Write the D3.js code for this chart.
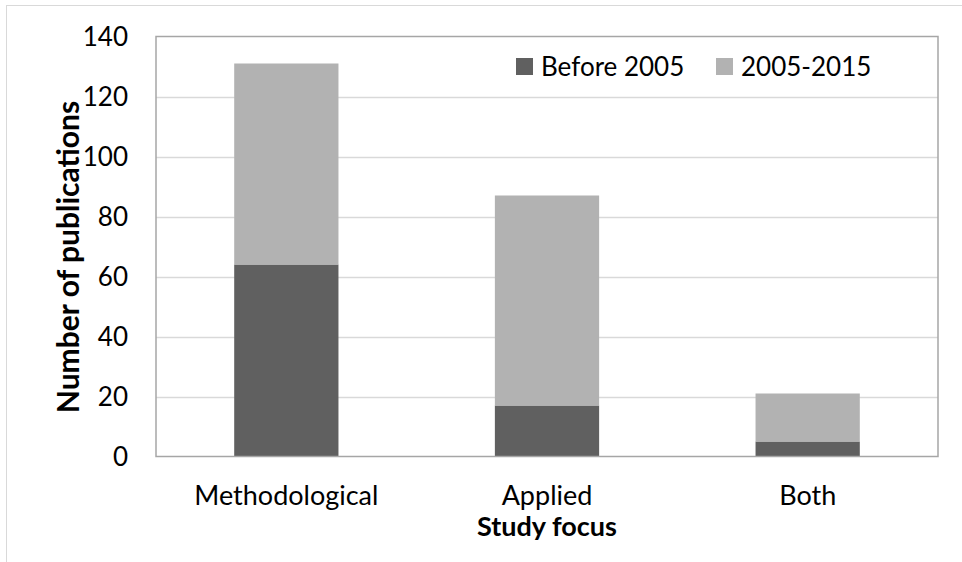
<!DOCTYPE html>
<html><head><meta charset="utf-8">
<script src="https://cdn.jsdelivr.net/npm/d3@7"></script>
<style>body{margin:0;background:#fff}svg{display:block}</style>
</head><body><svg id="c" width="962" height="562"></svg>
<script>
const categories = ["Methodological", "Applied", "Both"];
const seriesNames = ["Before 2005", "2005-2015"];
const before2005 = [64, 17, 5];
const y2005to2015 = [67, 70, 16];
const yTicks = [0, 20, 40, 60, 80, 100, 120, 140];
const colors = ["#606060", "#b2b2b2"];

const svg = d3.select("#c");
const F = "Lato, 'Open Sans', sans-serif";
const m = {l:156, t:36.5, r:938, b:456.5};

svg.append("rect").attr("x",6.5).attr("y",5.5).attr("width",1000).attr("height",1000)
  .attr("fill","none").attr("stroke","#d9d9d9").attr("stroke-width",1);

const x = d3.scaleBand().domain(categories).range([m.l, m.r]).paddingInner(0.6).paddingOuter(0.3);
const y = d3.scaleLinear().domain([0,140]).range([m.b, m.t]);

// grid
svg.append("g").selectAll("line").data(yTicks.filter(d=>d>0&&d<140)).join("line")
  .attr("x1",m.l).attr("x2",m.r).attr("y1",d=>Math.round(y(d))+0.5).attr("y2",d=>Math.round(y(d))+0.5)
  .attr("stroke","#d9d9d9").attr("stroke-width",1.5);

const data = categories.map((c,i)=>({cat:c, "Before 2005":before2005[i], "2005-2015":y2005to2015[i]}));
const stack = d3.stack().keys(seriesNames)(data);
svg.append("g").selectAll("g").data(stack).join("g").attr("fill",(d,i)=>colors[i])
  .selectAll("rect").data(d=>d).join("rect")
  .attr("x",d=>x(d.data.cat)).attr("width",x.bandwidth())
  .attr("y",d=>y(d[1])).attr("height",d=>y(d[0])-y(d[1]));

// plot border
svg.append("rect").attr("x",m.l).attr("y",m.t).attr("width",m.r-m.l).attr("height",m.b-m.t)
  .attr("fill","none").attr("stroke","#a6a6a6").attr("stroke-width",1.5);

// y axis labels
const ya = svg.append("g").attr("transform",`translate(${m.l},0)`)
  .call(d3.axisLeft(y).tickValues(yTicks).tickSize(0).tickPadding(28));
ya.select(".domain").remove();
ya.selectAll("text").attr("font-family",F).attr("font-size",26).attr("fill","#000").attr("dy","0.35em");

// x axis labels
const xa = svg.append("g").attr("transform",`translate(0,${m.b})`)
  .call(d3.axisBottom(x).tickSize(0).tickPadding(29));
xa.select(".domain").remove();
xa.selectAll("text").attr("font-family",F).attr("font-size",27).attr("fill","#000");

// axis titles
svg.append("text").attr("x",547).attr("y",536).attr("text-anchor","middle")
  .attr("font-family",F).attr("font-size",27).attr("font-weight","bold").text("Study focus");
svg.append("text").attr("transform",`translate(79,257) rotate(-90)`).attr("text-anchor","middle")
  .attr("font-family",F).attr("font-size",30).attr("font-weight","bold").text("Number of publications");

// legend
const lg = svg.append("g");
const lx = [516, 716];
seriesNames.forEach((s,i)=>{
  lg.append("rect").attr("x",lx[i]).attr("y",58).attr("width",17).attr("height",17).attr("fill",colors[i]);
  lg.append("text").attr("x",lx[i]+25).attr("y",67).attr("dy","0.35em").attr("font-family",F)
    .attr("font-size",26).attr("fill","#000").text(s);
});
</script></body></html>
